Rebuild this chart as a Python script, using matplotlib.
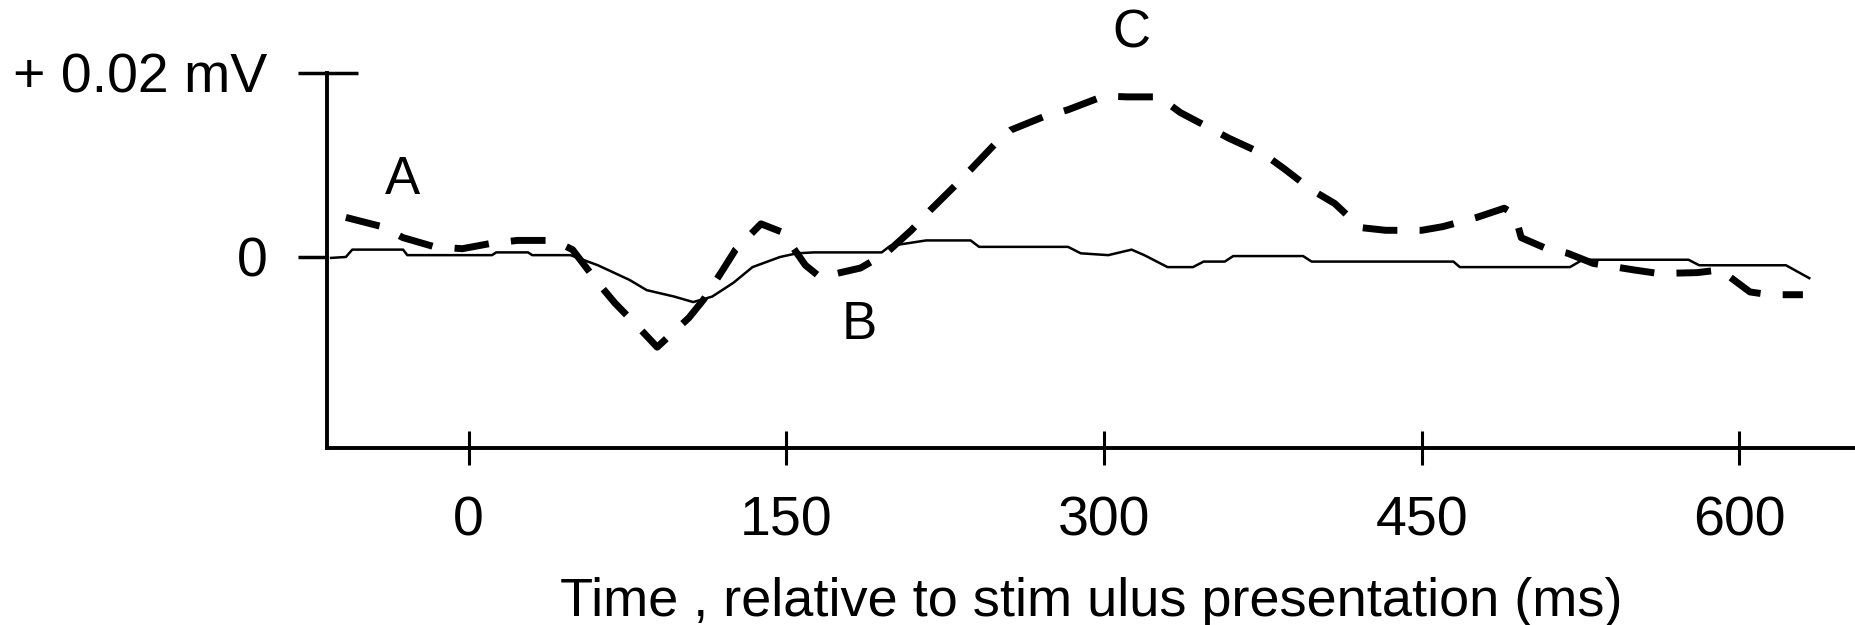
#!/bin/env python
import numpy as np
import matplotlib as mpl
mpl.use('Agg') # no display
import matplotlib.pyplot as plt

mpl.rcParams['font.family'] = ['Liberation Sans', 'DejaVu Sans']

# solid trace: time (ms) and amplitude (mV)
solid_t = [-65, -58, -55, -31, -29, 11, 13, 28, 30, 48, 61, 76, 84, 97, 106,
           115, 125, 134, 147, 155, 163, 195, 199, 216, 237, 241, 283, 289,
           302, 313, 319, 330, 342, 347, 357, 361, 394, 398, 465, 468, 520,
           526, 576, 581, 622, 633]
solid_v = [-0.0001, 0.0, 0.0008, 0.0008, 0.0002, 0.0002, 0.0005, 0.0005,
           0.0002, 0.0002, -0.0009, -0.0025, -0.0036, -0.0043, -0.0049,
           -0.0043, -0.0028, -0.0011, 0.0, 0.0004, 0.0005, 0.0005, 0.0012,
           0.0018, 0.0018, 0.0011, 0.0011, 0.0004, 0.0002, 0.0008, 0.0002,
           -0.0011, -0.0011, -0.0005, -0.0005, 0.0001, 0.0001, -0.0005,
           -0.0005, -0.0011, -0.0011, -0.0003, -0.0003, -0.0009, -0.0009,
           -0.0023]

# dashed trace
dashed_t = [-58, -41, -31, -16, -3, 11, 23, 40, 49, 61, 69, 80, 89, 104, 111,
            120, 126, 138, 148, 159, 166, 185, 197, 209, 218, 229, 237, 249,
            256, 271, 283, 300, 311, 326, 336, 350, 359, 376, 385, 398, 409,
            421, 433, 450, 460, 476, 489, 494, 497, 508, 519, 531, 550, 562,
            580, 591, 605, 614, 630]
dashed_v = [0.0043, 0.0033, 0.0021, 0.0011, 0.0009, 0.0015, 0.0018, 0.0018,
            0.0008, -0.0028, -0.0050, -0.0076, -0.0098, -0.0066, -0.0046,
            -0.0014, 0.0008, 0.0036, 0.0027, -0.0009, -0.0022, -0.0012,
            0.0004, 0.0029, 0.0051, 0.0076, 0.0095, 0.0124, 0.0138, 0.0152,
            0.0160, 0.0175, 0.0174, 0.0174, 0.0157, 0.0140, 0.0129, 0.0111,
            0.0096, 0.0073, 0.0058, 0.0032, 0.0029, 0.0029, 0.0033, 0.0043,
            0.0053, 0.0046, 0.0021, 0.0010, 0.0004, -0.0007, -0.0014,
            -0.0018, -0.0017, -0.0014, -0.0038, -0.0041, -0.0041]

xticks = [0, 150, 300, 450, 600]
yticks = [0, 0.02]
ytick_labels = ['0', '+ 0.02 mV']
xlabel = 'Time , relative to stim ulus presentation (ms)'

fig = plt.figure(figsize=(18.55, 6.25), dpi=100)
ax = fig.add_axes([0.1763, 0.2832, 0.8237, 0.7168])

ax.plot(solid_t, solid_v, color='black', lw=1.8)
ax.plot(dashed_t, dashed_v, color='black', lw=5, ls=(0, (5.0, 3.2)))

ax.set_xlim(-66.9, 654.6)
ax.set_ylim(-0.02076, 0.02793)

# axes: only left and bottom, left one stops at +0.02
for side in ['top', 'right']:
    ax.spines[side].set_visible(False)
for side in ['left', 'bottom']:
    ax.spines[side].set_linewidth(2.8)
ax.spines['left'].set_bounds(-0.02076, 0.02)

ax.set_xticks(xticks)
ax.set_xticklabels([str(t) for t in xticks])
ax.tick_params(axis='x', direction='inout', length=24.5, width=2.2,
               pad=22, labelsize=40)

ax.set_yticks(yticks)
ax.set_yticklabels(ytick_labels)
ax.tick_params(axis='y', which='major', direction='out', length=21,
               width=2.5, pad=22, labelsize=40)
# inward half of the top bar
ax.yaxis.remove_overlapping_locs = False
ax.set_yticks([0.02], minor=True)
ax.tick_params(axis='y', which='minor', direction='in', length=22, width=2.5)

ax.set_xlabel(xlabel, fontsize=39, labelpad=21)

# component labels
ax.text(-31.4, 0.0084, 'A', fontsize=38, ha='center', va='center')
ax.text(184.3, -0.0074, 'B', fontsize=38, ha='center', va='center')
ax.text(312.7, 0.0243, 'C', fontsize=38, ha='center', va='center')

fig.savefig('out.png', dpi=100, facecolor='white')
